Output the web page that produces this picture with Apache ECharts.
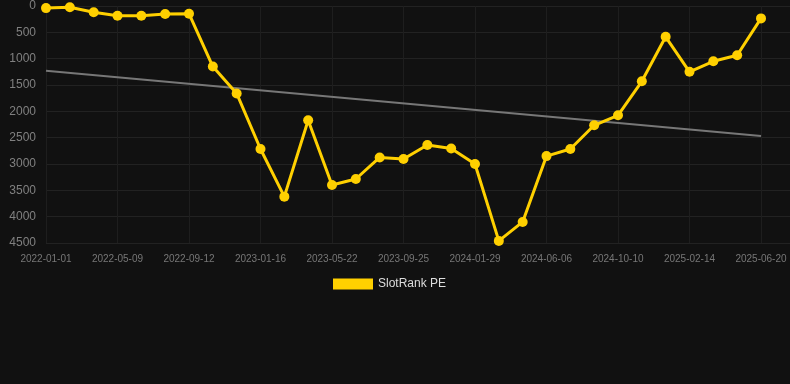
<!DOCTYPE html>
<html>
<head>
<meta charset="utf-8">
<script src="https://cdn.jsdelivr.net/npm/echarts@6/dist/echarts.min.js"></script>
<style>
  html, body { margin: 0; padding: 0; background: #111111; }
  #chart { width: 790px; height: 384px; }
</style>
</head>
<body>
<div id="chart"></div>
<script>
var dates = [
    '2022-01-01', '2022-02-12', '2022-03-26', '2022-05-09', '2022-06-20', '2022-08-01',
    '2022-09-12', '2022-10-24', '2022-12-05', '2023-01-16', '2023-02-27', '2023-04-10',
    '2023-05-22', '2023-07-03', '2023-08-14', '2023-09-25', '2023-11-06', '2023-12-18',
    '2024-01-29', '2024-03-11', '2024-04-24', '2024-06-06', '2024-07-18', '2024-08-29',
    '2024-10-10', '2024-11-21', '2025-01-03', '2025-02-14', '2025-03-28', '2025-05-09',
    '2025-06-20'
];
var slotRankPE = [
    40, 25, 120, 185, 185, 152, 146, 1150, 1660, 2715,
    3620, 2170, 3400, 3285, 2875, 2905, 2640, 2705, 3000, 4460,
    4100, 2850, 2715, 2265, 2075, 1430, 585, 1250, 1050, 935,
    235
];
var trendStart = 1230;
var trendEnd = 2470;
var yTicks = { min: 0, max: 4500, interval: 500 };

var chart = echarts.init(document.getElementById('chart'));

var option = {
    backgroundColor: '#111111',
    animation: false,
    grid: [
        { left: 46, right: 29, top: 6, bottom: 141 },
        // wider grid only used to draw the horizontal grid lines out to the edge
        { left: 46, right: 0, top: 6, bottom: 141 }
    ],
    legend: {
        data: [{ name: 'SlotRank PE', icon: 'rect' }],
        left: 328,
        top: 273,
        itemWidth: 40,
        itemHeight: 11,
        itemGap: 6,
        textStyle: { color: '#dddddd', fontSize: 12, fontFamily: 'Liberation Sans, Arial, sans-serif' }
    },
    xAxis: [
        {
            type: 'category',
            gridIndex: 0,
            data: dates,
            boundaryGap: false,
            axisLine: { show: false },
            axisTick: { show: false },
            axisLabel: {
                interval: 2,
                color: '#777777',
                fontSize: 10,
                margin: 11,
                fontFamily: 'Liberation Sans, Arial, sans-serif'
            },
            splitLine: {
                show: true,
                interval: 2,
                lineStyle: { color: '#1e1e1e', width: 1 }
            }
        },
        {
            type: 'value',
            gridIndex: 1,
            min: 0,
            max: 1,
            show: false
        }
    ],
    yAxis: [
        {
            type: 'value',
            gridIndex: 0,
            inverse: true,
            min: yTicks.min,
            max: yTicks.max,
            interval: yTicks.interval,
            axisLine: { show: false },
            axisTick: { show: false },
            axisLabel: {
                color: '#808080',
                fontSize: 12,
                margin: 10,
                fontFamily: 'Liberation Sans, Arial, sans-serif',
                formatter: function (v) { return String(v); }
            },
            splitLine: { show: false }
        },
        {
            type: 'value',
            gridIndex: 1,
            inverse: true,
            min: yTicks.min,
            max: yTicks.max,
            interval: yTicks.interval,
            axisLine: { show: false },
            axisTick: { show: false },
            axisLabel: { show: false },
            splitLine: {
                lineStyle: { color: '#222222', width: 1 }
            }
        }
    ],
    series: [
        {
            name: 'trend',
            type: 'line',
            data: [[dates[0], trendStart], [dates[dates.length - 1], trendEnd]],
            symbol: 'none',
            silent: true,
            lineStyle: { color: '#777777', width: 2 },
            z: 1
        },
        {
            name: 'SlotRank PE',
            type: 'line',
            data: slotRankPE,
            symbol: 'circle',
            symbolSize: 10,
            itemStyle: { color: '#FFD000' },
            lineStyle: { color: '#FFD000', width: 3 },
            z: 2
        }
    ]
};

chart.setOption(option);
</script>
</body>
</html>
